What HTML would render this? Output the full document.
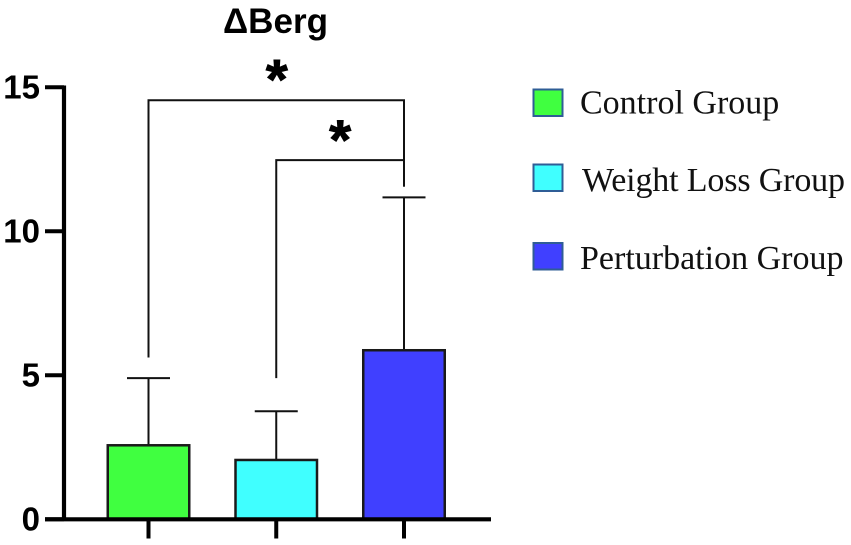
<!DOCTYPE html>
<html>
<head>
<meta charset="utf-8">
<style>
html,body{margin:0;padding:0;background:#fff;}
svg{display:block;}
text{fill:#000;}
.sans{font-family:"Liberation Sans",sans-serif;font-weight:bold;}
.serif{font-family:"Liberation Serif",serif;font-size:34px;fill:#111;}
</style>
</head>
<body>
<svg id="chart" width="851" height="545" viewBox="0 0 851 545" xmlns="http://www.w3.org/2000/svg">
  <text class="sans" x="223" y="33" font-size="35" textLength="105" lengthAdjust="spacingAndGlyphs">ΔBerg</text>
  <g>
    <g>
      <rect x="533.5" y="89.5" width="29" height="26.5" fill="#40ff40" stroke="#2f5d96" stroke-width="2"/>
      <text class="serif" x="580" y="113.5">Control Group</text>
    </g>
    <g>
      <rect x="533.5" y="164.5" width="29" height="26.5" fill="#40ffff" stroke="#2f5d96" stroke-width="2"/>
      <text class="serif" x="582" y="191" textLength="263" lengthAdjust="spacing">Weight Loss Group</text>
    </g>
    <g>
      <rect x="533.5" y="243" width="29" height="26.5" fill="#4040ff" stroke="#2f5d96" stroke-width="2"/>
      <text class="serif" x="580" y="269">Perturbation Group</text>
    </g>
  </g>
  <g id="plot"></g>
</svg>
<script>
var categories = ["Control Group", "Weight Loss Group", "Perturbation Group"];
var categorySlugs = ["control", "weight-loss", "perturbation"];
var means = [2.57, 2.06, 5.87];
var errorTops = [4.9, 3.75, 11.18];
var barColors = ["#40ff40", "#40ffff", "#4040ff"];
var yTickLabels = [0, 5, 10, 15];
var bracketFrom = [0, 1];
var bracketTo = [2, 2];
var bracketLevels = [14.55, 12.47];
var bracketLeftEnds = [5.62, 4.9];
var bracketRightEnds = [11.55, 11.55];
var bracketLabels = ["*", "*"];

var NS = "http://www.w3.org/2000/svg";
var plot = document.getElementById("plot");
function yScale(v) { return 519.3 - v * 28.8; }
function xScale(i) { return 148.5 + i * 127.75; }
function make(tag, attrs) {
  var el = document.createElementNS(NS, tag);
  for (var k in attrs) { el.setAttribute(k, attrs[k]); }
  plot.appendChild(el);
  return el;
}
var BAR_W = 81.5;
var el, i;

for (i = 0; i < categories.length; i++) {
  el = make("line", {x1: xScale(i), x2: xScale(i), y1: yScale(means[i]), y2: yScale(errorTops[i]), stroke: "#111", "stroke-width": 2});
  
  
  el = make("line", {x1: xScale(i) - 21.5, x2: xScale(i) + 21.5, y1: yScale(errorTops[i]), y2: yScale(errorTops[i]), stroke: "#111", "stroke-width": 2});
  
  
  el = make("rect", {x: xScale(i) - BAR_W / 2, y: yScale(means[i]), width: BAR_W, height: yScale(0) - yScale(means[i]), fill: barColors[i], stroke: "#1a1a1a", "stroke-width": 2.5});
  
  
  el = make("line", {x1: xScale(i), x2: xScale(i), y1: yScale(0), y2: 538.5, stroke: "#000", "stroke-width": 4});
  
  
}

for (i = 0; i < bracketLevels.length; i++) {
  var xa = xScale(bracketFrom[i]), xb = xScale(bracketTo[i]);
  el = make("path", {
    d: "M" + xa + " " + yScale(bracketLeftEnds[i]) + "V" + yScale(bracketLevels[i]) + "H" + xb + "V" + yScale(bracketRightEnds[i]),
    fill: "none", stroke: "#111", "stroke-width": 2
  });
  
  
  el = make("text", {x: i === 0 ? (xa + xb) / 2 + 0.5 : (xa + xb) / 2, y: yScale(bracketLevels[i]) + (i === 0 ? -2 : -1), "font-size": 56, "text-anchor": "middle", "class": "sans", stroke: "#000", "stroke-width": 1});
  el.textContent = bracketLabels[i];
  
  
}

el = make("line", {x1: 64, x2: 64, y1: 85.5, y2: 521, stroke: "#000", "stroke-width": 4.2});


el = make("line", {x1: 45, x2: 491, y1: yScale(0), y2: yScale(0), stroke: "#000", "stroke-width": 4.2});



for (i = 0; i < yTickLabels.length; i++) {
  var v = yTickLabels[i];
  el = make("line", {x1: 45, x2: 64, y1: yScale(v), y2: yScale(v), stroke: "#000", "stroke-width": 4});
  
  
  el = make("text", {x: 40, y: yScale(v) + 11, "font-size": 33, "text-anchor": "end", "class": "sans"});
  el.textContent = String(v);
  
  
}
</script>
</body>
</html>
